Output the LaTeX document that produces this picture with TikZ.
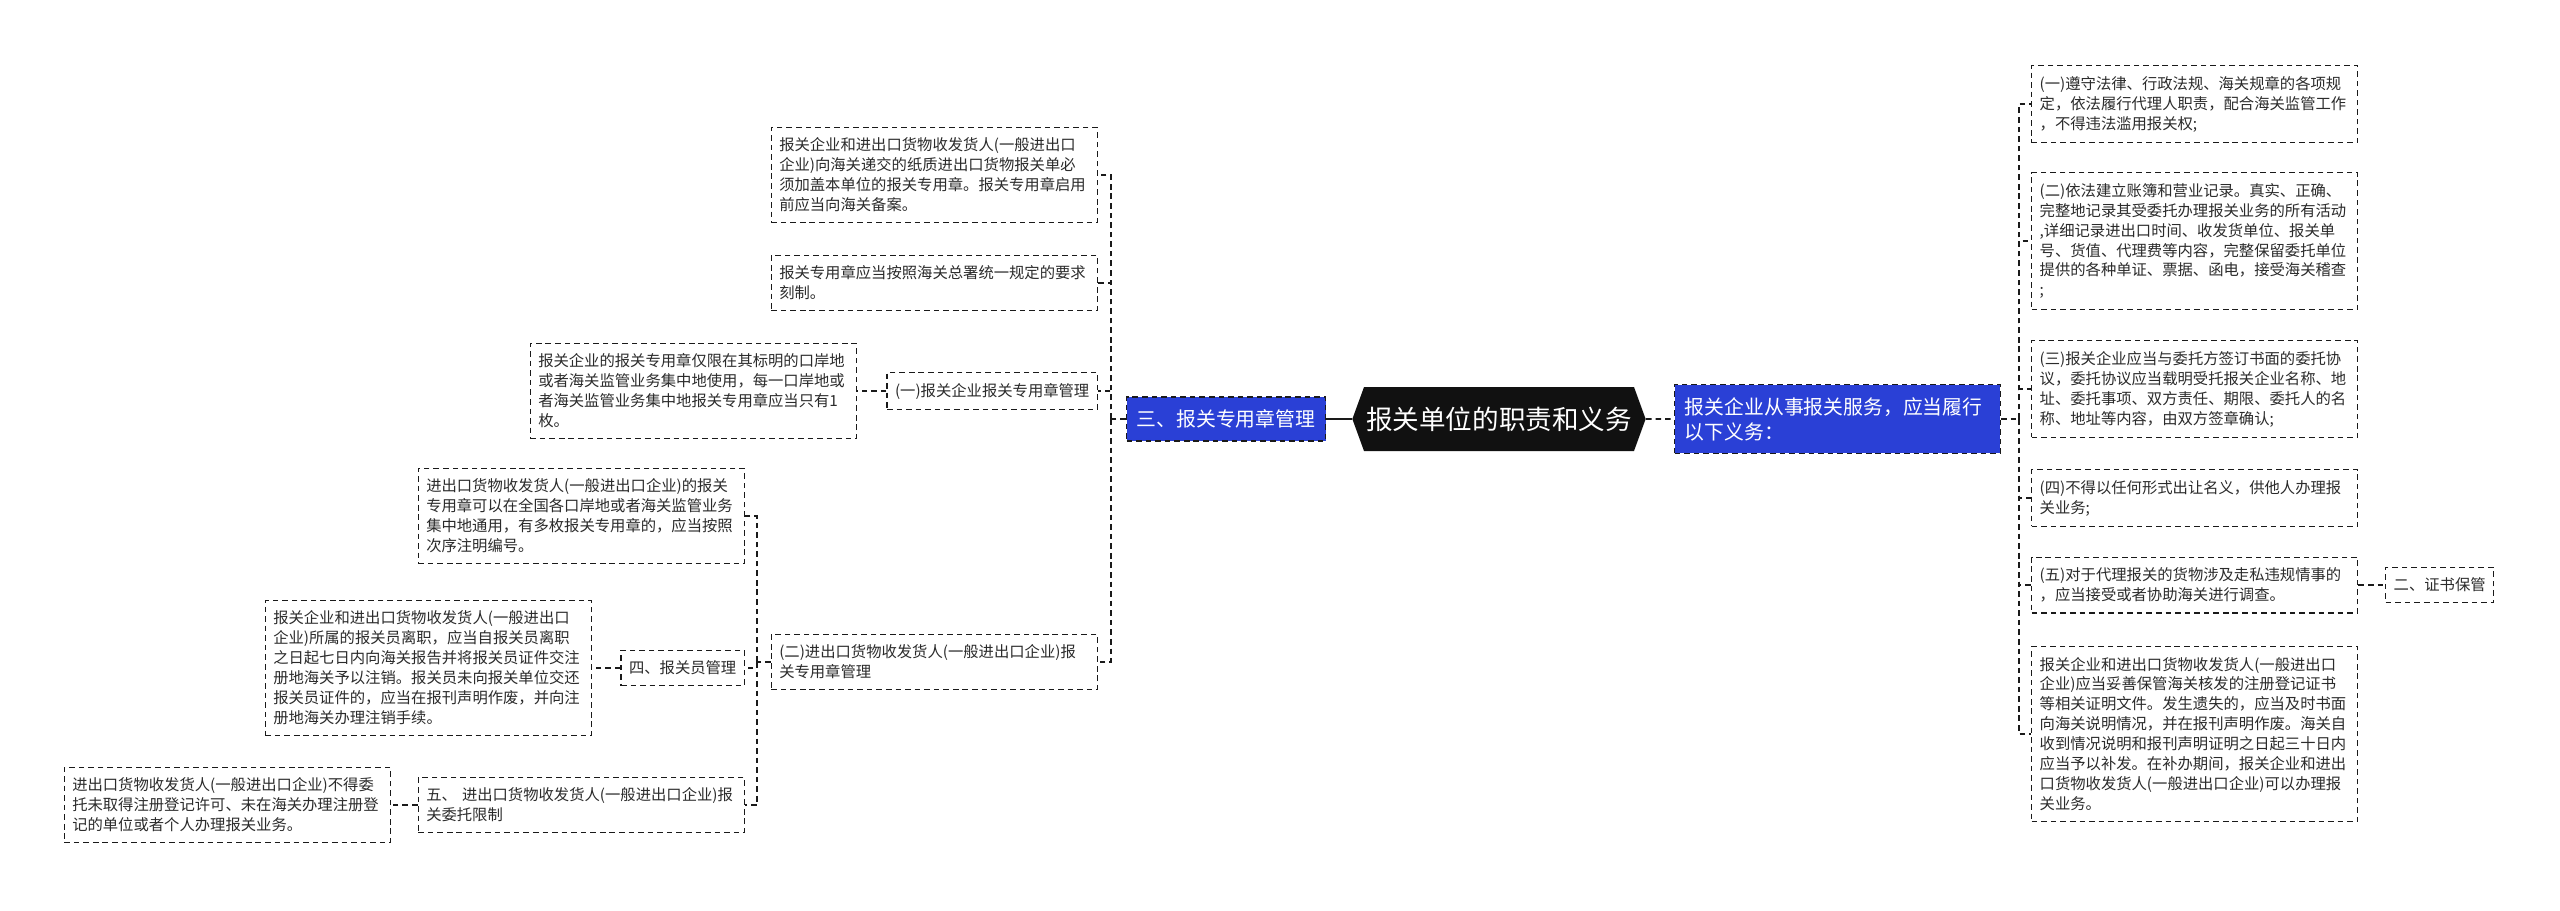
\documentclass[tikz,border=0pt]{standalone}
\usepackage{fontspec}
\usetikzlibrary{shapes.symbols}
\newfontfamily\cjk{Noto Sans CJK SC}
\definecolor{ink}{HTML}{2B2B2B}
\definecolor{wire}{HTML}{1A1A1A}
\definecolor{royal}{HTML}{2A40D6}
\definecolor{night}{HTML}{111111}

\begin{document}
\begin{tikzpicture}[x=0.025cm,y=-0.025cm,
  leaf/.style={draw=wire,line width=0.95pt,dash pattern=on 4pt off 2.8pt,text=ink,font=\cjk\fontsize{10.9}{14.2}\selectfont,align=left,inner xsep=5.7pt,inner ysep=7.5pt},
  wide/.style={leaf,text width=220.5pt},
  topic/.style={draw=wire,line width=0.95pt,dash pattern=on 4pt off 2.8pt,fill=royal,text=white,font=\cjk\fontsize{14.1}{17.8}\selectfont,align=left,inner xsep=7.3pt,inner ysep=9pt},
  hub/.style={signal,signal to=west and east,signal pointer angle=140,fill=night,text=white,font=\cjk\fontsize{18.9}{22}\selectfont,inner xsep=1.5pt,minimum height=45.5pt},
  link/.style={draw=wire,line width=1.1pt,dash pattern=on 4pt off 2.8pt}]
\fill[white] (0,0) rectangle (2560,910);\useasboundingbox (0,0) rectangle (2560,910);
\coordinate (lbus) at (1111,0);\coordinate (lbus2) at (757,0);\coordinate (rbus) at (2019,0);

\node[hub] (root) at (1499,419) {报关单位的职责和义务};
\node[topic] (stamp) at (1226,419) {三、报关专用章管理};
\node[topic,text width=217pt,anchor=west] (duty) at (1674,419) {报关企业从事报关服务，应当履行\\以下义务：};

\node[wide,anchor=east] (s1) at (1098,175) {报关企业和进出口货物收发货人(一般进出口\\企业)向海关递交的纸质进出口货物报关单必\\须加盖本单位的报关专用章。报关专用章启用\\前应当向海关备案。};
\node[wide,anchor=east] (s2) at (1098,283) {报关专用章应当按照海关总署统一规定的要求\\刻制。};
\node[leaf,anchor=east] (s3) at (1098,391) {(一)报关企业报关专用章管理};
\node[wide,anchor=east] (s3a) at (857,391) {报关企业的报关专用章仅限在其标明的口岸地\\或者海关监管业务集中地使用，每一口岸地或\\者海关监管业务集中地报关专用章应当只有1\\枚。};
\node[wide,anchor=east] (s4) at (1098,662) {(二)进出口货物收发货人(一般进出口企业)报\\关专用章管理};
\node[wide,anchor=east] (s4a) at (745,516) {进出口货物收发货人(一般进出口企业)的报关\\专用章可以在全国各口岸地或者海关监管业务\\集中地通用，有多枚报关专用章的，应当按照\\次序注明编号。};
\node[leaf,anchor=east] (s4b) at (745,668) {四、报关员管理};
\node[wide,anchor=east] (s4ba) at (592,668) {报关企业和进出口货物收发货人(一般进出口\\企业)所属的报关员离职，应当自报关员离职\\之日起七日内向海关报告并将报关员证件交注\\册地海关予以注销。报关员未向报关单位交还\\报关员证件的，应当在报刊声明作废，并向注\\册地海关办理注销手续。};
\node[wide,anchor=east] (s4c) at (745,805) {五、 进出口货物收发货人(一般进出口企业)报\\关委托限制};
\node[wide,anchor=east] (s4ca) at (391,805) {进出口货物收发货人(一般进出口企业)不得委\\托未取得注册登记许可、未在海关办理注册登\\记的单位或者个人办理报关业务。};

\node[wide,anchor=west] (d1) at (2031,104) {(一)遵守法律、行政法规、海关规章的各项规\\定，依法履行代理人职责，配合海关监管工作\\，不得违法滥用报关权;};
\node[wide,anchor=west] (d2) at (2031,241) {(二)依法建立账簿和营业记录。真实、正确、\\完整地记录其受委托办理报关业务的所有活动\\,详细记录进出口时间、收发货单位、报关单\\号、货值、代理费等内容，完整保留委托单位\\提供的各种单证、票据、函电，接受海关稽查\\;};
\node[wide,anchor=west] (d3) at (2031,389) {(三)报关企业应当与委托方签订书面的委托协\\议，委托协议应当载明受托报关企业名称、地\\址、委托事项、双方责任、期限、委托人的名\\称、地址等内容，由双方签章确认;};
\node[wide,anchor=west] (d4) at (2031,498) {(四)不得以任何形式出让名义，供他人办理报\\关业务;};
\node[wide,anchor=west] (d5) at (2031,585) {(五)对于代理报关的货物涉及走私违规情事的\\，应当接受或者协助海关进行调查。};
\node[leaf,anchor=west] (d5a) at (2385,585) {二、证书保管};
\node[wide,anchor=west] (d6) at (2031,734) {报关企业和进出口货物收发货人(一般进出口\\企业)应当妥善保管海关核发的注册登记证书\\等相关证明文件。发生遗失的，应当及时书面\\向海关说明情况，并在报刊声明作废。海关自\\收到情况说明和报刊声明证明之日起三十日内\\应当予以补发。在补办期间，报关企业和进出\\口货物收发货人(一般进出口企业)可以办理报\\关业务。};

\draw[link,solid] (root) -- (stamp);\draw[link] (root) -- (duty);
\draw[link] (stamp.west) -- (stamp.west -| lbus);
\foreach \n in {s1,s2,s3,s4} \draw[link] (stamp.west -| lbus) |- (\n.east);
\draw[link] (s3.west) -- (s3a.east);
\draw[link] (s4.west) -- (s4.west -| lbus2);
\foreach \n in {s4a,s4b,s4c} \draw[link] (s4.west -| lbus2) |- (\n.east);
\draw[link] (s4b.west) -- (s4ba.east);\draw[link] (s4c.west) -- (s4ca.east);
\draw[link] (duty.east) -- (duty.east -| rbus);
\foreach \n in {d1,d2,d3,d4,d5,d6} \draw[link] (duty.east -| rbus) |- (\n.west);
\draw[link] (d5.east) -- (d5a.west);
\end{tikzpicture}
\end{document}
